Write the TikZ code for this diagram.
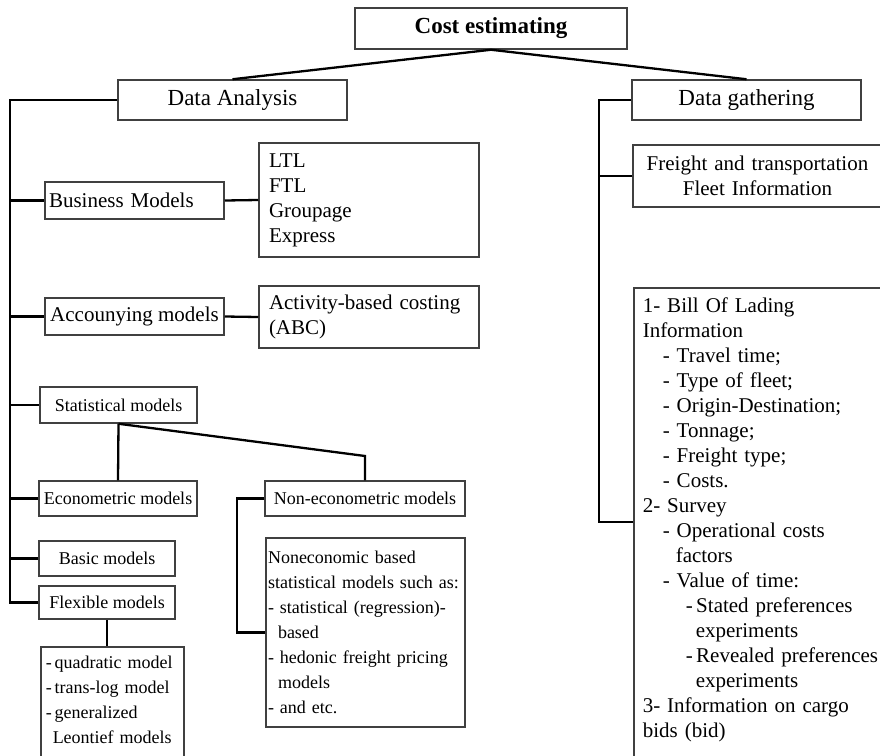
\documentclass[tikz,border=0pt]{standalone}
\usepackage{fontspec}
\setmainfont{Liberation Serif}
\usetikzlibrary{shapes,arrows,fit,calc,positioning}

\begin{document}
\begin{tikzpicture}[x=1pt,y=-1pt]
		\tikzstyle{box} = [draw=black!75,line width=1.5pt,fill=white,inner xsep=4pt,font=\fontsize{21}{25}\selectfont]
		\tikzstyle{small} = [font=\fontsize{18}{25}\selectfont]
		\tikzstyle{head} = [font=\fontsize{23}{27}\selectfont]
		\tikzstyle{listbox} = [box,anchor=north west,align=left,inner ysep=9pt]
		\tikzstyle{link} = [draw=black,line width=2.3pt]
		\useasboundingbox (0,0) rectangle (880,755);
		% Root
		\node[box,head,minimum width=272,minimum height=41] (cost) at (491,28.5) {\textbf{Cost estimating}};
		\node[box,head,minimum width=229,minimum height=40] (ana) at (232.5,100) {Data Analysis};
		\node[box,head,minimum width=229,minimum height=40] (gath) at (746.5,100) {Data gathering};
		\draw[link] (cost.south) -- (ana.north);
		\draw[link] (cost.south) -- (gath.north);
		% Data analysis
		\node[box,minimum width=179,minimum height=37,text width=171pt,align=left] (bus) at (134.5,200.5) {Business Models};
		\node[box,minimum width=220,minimum height=114,text width=200pt,inner xsep=10pt,align=left] (ltl) at (369,200) {LTL\\FTL\\Groupage\\Express};
		\node[box,minimum width=179,minimum height=37] (acc) at (134.5,316.5) {Accounying models};
		\node[box,minimum width=220,minimum height=62,text width=200pt,inner xsep=10pt,align=left] (abc) at (369,317) {Activity-based costing\\(ABC)};
		\node[box,small,minimum width=157,minimum height=36] (stat) at (118.5,405) {Statistical models};
		\node[box,small,minimum width=158,minimum height=35] (econ) at (118,498.5) {Econometric models};
		\node[box,small,minimum width=200,minimum height=35] (nonec) at (365,498.5) {Non-econometric models};
		\node[box,small,minimum width=136,minimum height=35] (basic) at (107,558.5) {Basic models};
		\node[box,small,minimum width=136,minimum height=33] (flex) at (107,602.5) {Flexible models};
		\node[box,small,minimum width=199,minimum height=189,text width=195pt,inner xsep=2pt,align=left] (nonlist) at (365.5,632.5)
			{Noneconomic based\\statistical models such as:\\- statistical (regression)-\\\hspace*{10pt}based\\- hedonic freight pricing\\\hspace*{10pt}models\\- and etc.};
		\node[listbox,small,text width=133pt,inner xsep=5pt] (flist) at (40,646)
			{-\,quadratic model\\-\,trans-log model\\-\,generalized\\\hspace*{7pt}Leontief models\\\mbox{}};
		\coordinate (ltop) at (10,100);
		\draw[link] (ana.west) -- (ltop) |- (flex.west);
		\draw[link] (bus.west) -- (ltop |- bus.west);
		\draw[link] (acc.west) -- (ltop |- acc.west);
		\draw[link] (stat.west) -- (ltop |- stat.west);
		\draw[link] (econ.west) -- (ltop |- econ.west);
		\draw[link] (basic.west) -- (ltop |- basic.west);
		\draw[link] (bus.east) -- (ltl.west);
		\draw[link] (acc.east) -- (abc.west);
		\coordinate (nbend) at (365,456);
		\draw[link] (stat.south) -- (econ.north);
		\draw[link] (stat.south) -- (nbend) -- (nonec.north);
		\coordinate (nleft) at (237,498.5);
		\draw[link] (nonec.west) -- (nleft) |- (nonlist.west);
		\draw[link] (flex.south) -- (flex.south |- flist.north);
		% Data gathering
		\node[box,minimum width=249,minimum height=62,text width=241pt,align=center] (freight) at (757.5,176) {Freight and transportation\\Fleet Information};
		\node[listbox,text width=240pt,inner xsep=9pt,inner ysep=10pt] (bill) at (633,287)
			{1- Bill Of Lading\\
			Information\\
			\hspace*{20pt}- Travel time;\\
			\hspace*{20pt}- Type of fleet;\\
			\hspace*{20pt}- Origin-Destination;\\
			\hspace*{20pt}- Tonnage;\\
			\hspace*{20pt}- Freight type;\\
			\hspace*{20pt}- Costs.\\
			2- Survey\\
			\hspace*{20pt}- Operational costs\\
			\hspace*{33pt}factors\\
			\hspace*{20pt}- Value of time:\\
			\hspace*{43pt}-\,Stated preferences\\
			\hspace*{53pt}experiments\\
			\hspace*{43pt}-\,Revealed preferences\\
			\hspace*{53pt}experiments\\
			3- Information on cargo\\
			bids (bid)\\
			\mbox{}};
		\coordinate (rtop) at (599,100);
		\coordinate (rbot) at (599,522);
		\draw[link] (gath.west) -- (rtop) -- (rbot) -- (rbot -| bill.west);
		\draw[link] (freight.west) -- (rtop |- freight.west);
\end{tikzpicture}
\end{document}
